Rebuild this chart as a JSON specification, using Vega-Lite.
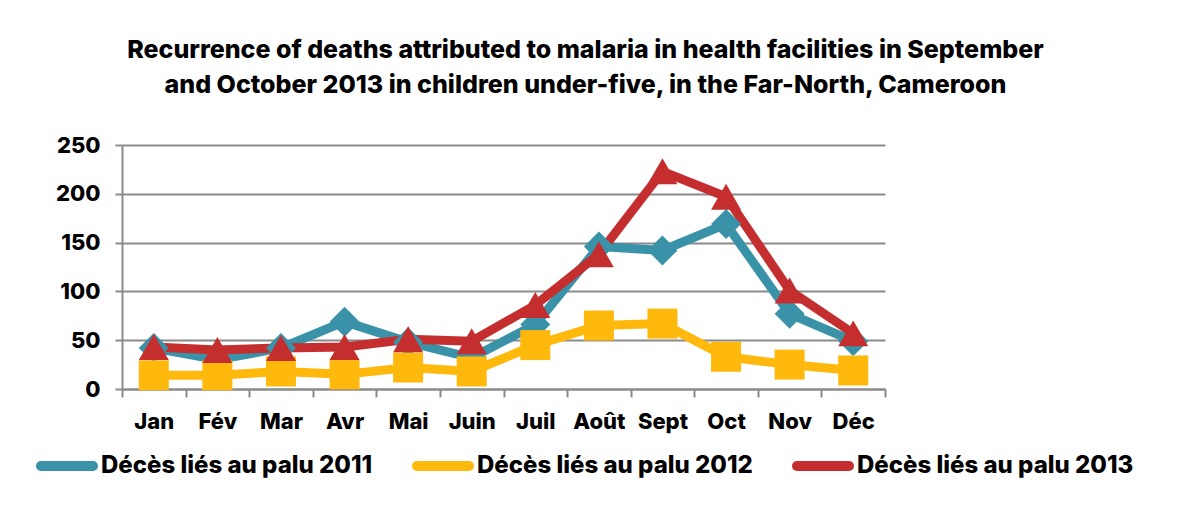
{
  "$schema": "https://vega.github.io/schema/vega-lite/v6.json",
  "width": 763,
  "height": 244,
  "autosize": {"type": "none"},
  "padding": {"left": 122, "top": 145, "right": 313, "bottom": 124},
  "background": "white",
  "config": {
    "font": "Inter",
    "view": {"stroke": null},
    "axis": {"labelFont": "Inter", "labelFontWeight": 800, "labelFontSize": 22, "labelColor": "black", "domainColor": "#8a8a8a", "tickColor": "#8a8a8a", "gridColor": "#8a8a8a", "domainWidth": 2, "tickWidth": 2, "gridWidth": 2}
  },
  "title": {
    "text": ["Recurrence of deaths attributed to malaria in health facilities in September", "and October 2013 in children under-five, in the Far-North, Cameroon"],
    "font": "Inter", "fontSize": 25, "fontWeight": 800, "color": "black",
    "anchor": "middle", "dx": 82, "offset": 36, "lineHeight": 35
  },
  "data": {
    "values": [
      {"mois": "Jan", "serie": "Décès liés au palu 2011", "val": 42},
      {"mois": "Fév", "serie": "Décès liés au palu 2011", "val": 30},
      {"mois": "Mar", "serie": "Décès liés au palu 2011", "val": 42},
      {"mois": "Avr", "serie": "Décès liés au palu 2011", "val": 69},
      {"mois": "Mai", "serie": "Décès liés au palu 2011", "val": 48},
      {"mois": "Juin", "serie": "Décès liés au palu 2011", "val": 32},
      {"mois": "Juil", "serie": "Décès liés au palu 2011", "val": 66},
      {"mois": "Août", "serie": "Décès liés au palu 2011", "val": 146},
      {"mois": "Sept", "serie": "Décès liés au palu 2011", "val": 142},
      {"mois": "Oct", "serie": "Décès liés au palu 2011", "val": 169},
      {"mois": "Nov", "serie": "Décès liés au palu 2011", "val": 77},
      {"mois": "Déc", "serie": "Décès liés au palu 2011", "val": 49},
      {"mois": "Jan", "serie": "Décès liés au palu 2012", "val": 14},
      {"mois": "Fév", "serie": "Décès liés au palu 2012", "val": 14},
      {"mois": "Mar", "serie": "Décès liés au palu 2012", "val": 18},
      {"mois": "Avr", "serie": "Décès liés au palu 2012", "val": 15},
      {"mois": "Mai", "serie": "Décès liés au palu 2012", "val": 22},
      {"mois": "Juin", "serie": "Décès liés au palu 2012", "val": 18},
      {"mois": "Juil", "serie": "Décès liés au palu 2012", "val": 45},
      {"mois": "Août", "serie": "Décès liés au palu 2012", "val": 65},
      {"mois": "Sept", "serie": "Décès liés au palu 2012", "val": 67},
      {"mois": "Oct", "serie": "Décès liés au palu 2012", "val": 33},
      {"mois": "Nov", "serie": "Décès liés au palu 2012", "val": 25},
      {"mois": "Déc", "serie": "Décès liés au palu 2012", "val": 19},
      {"mois": "Jan", "serie": "Décès liés au palu 2013", "val": 43},
      {"mois": "Fév", "serie": "Décès liés au palu 2013", "val": 40},
      {"mois": "Mar", "serie": "Décès liés au palu 2013", "val": 42},
      {"mois": "Avr", "serie": "Décès liés au palu 2013", "val": 43},
      {"mois": "Mai", "serie": "Décès liés au palu 2013", "val": 51},
      {"mois": "Juin", "serie": "Décès liés au palu 2013", "val": 49},
      {"mois": "Juil", "serie": "Décès liés au palu 2013", "val": 86},
      {"mois": "Août", "serie": "Décès liés au palu 2013", "val": 138},
      {"mois": "Sept", "serie": "Décès liés au palu 2013", "val": 223},
      {"mois": "Oct", "serie": "Décès liés au palu 2013", "val": 197},
      {"mois": "Nov", "serie": "Décès liés au palu 2013", "val": 101},
      {"mois": "Déc", "serie": "Décès liés au palu 2013", "val": 57}
    ]
  },
  "encoding": {
    "x": {
      "field": "mois", "type": "ordinal",
      "sort": ["Jan", "Fév", "Mar", "Avr", "Mai", "Juin", "Juil", "Août", "Sept", "Oct", "Nov", "Déc"],
      "scale": {"paddingInner": 0, "paddingOuter": 0},
      "axis": {"title": null, "labelAngle": 0, "tickBand": "extent", "tickSize": 8, "labelPadding": 14, "grid": false}
    },
    "y": {
      "field": "val", "type": "quantitative",
      "scale": {"domain": [0, 250], "nice": false},
      "axis": {"title": null, "values": [0, 50, 100, 150, 200, 250], "tickSize": 7, "labelPadding": 15, "grid": true}
    },
    "color": {
      "field": "serie", "type": "nominal",
      "scale": {"domain": ["Décès liés au palu 2011", "Décès liés au palu 2012", "Décès liés au palu 2013"], "range": ["#3A92A8", "#FFB80C", "#C42E2E"]},
      "legend": {
        "title": null, "orient": "none", "legendX": -86, "legendY": 290, "direction": "horizontal",
        "symbolType": "stroke", "symbolSize": 2704, "symbolStrokeWidth": 10,
        "labelFont": "Inter", "labelFontWeight": 800, "labelFontSize": 24, "labelColor": "black", "labelLimit": 400,
        "columnPadding": 24, "labelOffset": 3,
        "encode": {"symbols": {"update": {"strokeCap": {"value": "round"}, "stroke": {"scale": "color", "field": "value"}, "opacity": {"value": 1}}}}
      }
    }
  },
  "layer": [
    {"mark": {"type": "line", "strokeWidth": 9, "strokeJoin": "miter"}},
    {
      "transform": [{"filter": "datum.serie == 'Décès liés au palu 2011'"}],
      "mark": {"type": "point", "shape": "diamond", "filled": true, "opacity": 1, "size": 900}
    },
    {
      "transform": [{"filter": "datum.serie == 'Décès liés au palu 2012'"}],
      "mark": {"type": "point", "shape": "square", "filled": true, "opacity": 1, "size": 900}
    },
    {
      "transform": [{"filter": "datum.serie == 'Décès liés au palu 2013'"}],
      "mark": {"type": "point", "shape": "triangle-up", "filled": true, "opacity": 1, "size": 900}
    }
  ]
}
